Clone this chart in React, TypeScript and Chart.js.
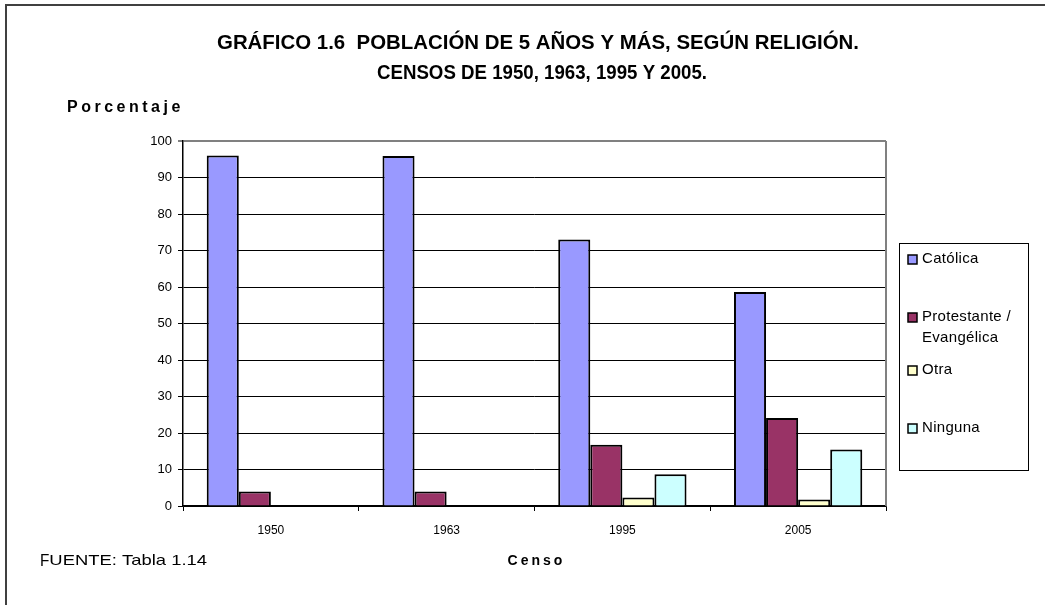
import { useEffect, useRef } from 'react';
import { Chart, registerables } from 'chart.js';

Chart.register(...registerables);

const categories = ['1950', '1963', '1995', '2005'];
const catolica = [96.0, 95.9, 73.0, 58.6];
const protestante = [4.0, 4.0, 16.8, 24.1];
const otra: (number | null)[] = [null, null, 2.3, 1.8];
const ninguna: (number | null)[] = [null, null, 8.7, 15.5];
const seriesLabels = ['Católica', 'Protestante / Evangélica', 'Otra', 'Ninguna'];
const legendLines = [['Católica'], ['Protestante /', 'Evangélica'], ['Otra'], ['Ninguna']];
const seriesColors = ['#9999FF', '#993366', '#FFFFCC', '#CCFFFF'];
const titleLines = [
  'GRÁFICO 1.6  POBLACIÓN DE 5 AÑOS Y MÁS, SEGÚN RELIGIÓN.',
  'CENSOS DE 1950, 1963, 1995 Y 2005.',
];
const yAxisTitle = 'Porcentaje';
const xAxisTitle = 'Censo';
const sourceText = 'FUENTE: Tabla 1.14';
const yMin = 0;
const yMax = 100;
const yStep = 10;

const FONT = '"Liberation Sans", Arial, Helvetica, sans-serif';

function fitText(ctx: CanvasRenderingContext2D, text: string, x: number, cy: number, w: number, align: 'center' | 'left') {
  const m = ctx.measureText(text).width;
  const s = w / m;
  ctx.save();
  ctx.translate(x, cy);
  ctx.scale(s, 1);
  ctx.textAlign = align;
  ctx.textBaseline = 'middle';
  ctx.fillText(text, 0, 0);
  ctx.restore();
}

export default function App() {
  const ref = useRef<HTMLCanvasElement>(null);

  useEffect(() => {
    const canvas = ref.current!;
    const decor = {
      id: 'decor',
      beforeDraw(chart: any) {
        const ctx = chart.ctx as CanvasRenderingContext2D;
        ctx.save();
        ctx.fillStyle = '#ffffff';
        ctx.fillRect(0, 0, chart.width, chart.height);
        ctx.restore();
      },
      afterDraw(chart: any) {
        const ctx = chart.ctx as CanvasRenderingContext2D;
        const a = chart.chartArea;
        ctx.save();
        // outer frame (left & top visible)
        ctx.strokeStyle = '#404040';
        ctx.lineWidth = 2;
        ctx.beginPath();
        ctx.moveTo(6, 605);
        ctx.lineTo(6, 5);
        ctx.lineTo(1045, 5);
        ctx.stroke();
        // plot right border
        ctx.strokeStyle = '#808080';
        ctx.lineWidth = 2;
        ctx.beginPath();
        ctx.moveTo(a.right, a.top);
        ctx.lineTo(a.right, a.bottom);
        ctx.stroke();

        // title
        ctx.fillStyle = '#000';
        ctx.font = `bold 20px ${FONT}`;
        fitText(ctx, titleLines[0], 538, 43, 642, 'center');
        fitText(ctx, titleLines[1], 542, 73, 330, 'center');

        // axis titles
        ctx.font = `bold 16px ${FONT}`;
        (ctx as any).letterSpacing = '3.5px';
        ctx.textAlign = 'left';
        ctx.textBaseline = 'middle';
        ctx.fillText(yAxisTitle, 67, 108);
        ctx.font = `bold 14px ${FONT}`;
        (ctx as any).letterSpacing = '3px';
        ctx.textAlign = 'center';
        ctx.fillText(xAxisTitle, (a.left + a.right) / 2 + 2, 561);
        (ctx as any).letterSpacing = '0px';

        // source
        ctx.font = `17px ${FONT}`;
        const fw = ctx.measureText(sourceText.charAt(0)).width * 0.9;
        fitText(ctx, sourceText.charAt(0), 40, 561, fw, 'left');
        ctx.font = `15px ${FONT}`;
        fitText(ctx, sourceText.slice(1), 40 + fw, 561, 167 - fw, 'left');

        // legend
        const lx = 899, ly = 243, lw = 129, lh = 227;
        ctx.strokeStyle = '#000';
        ctx.lineWidth = 1;
        ctx.strokeRect(lx + 0.5, ly + 0.5, lw, lh);
        const ys = [259, 317, 370, 428];
        ctx.font = `15px ${FONT}`;
        (ctx as any).letterSpacing = '0.3px';
        ctx.textAlign = 'left';
        ctx.textBaseline = 'middle';
        legendLines.forEach((lines, i) => {
          const y = ys[i];
          ctx.fillStyle = seriesColors[i];
          ctx.fillRect(908, y - 4, 9, 9);
          ctx.strokeStyle = '#000';
          ctx.lineWidth = 1.5;
          ctx.strokeRect(908, y - 4, 9, 9);
          ctx.fillStyle = '#000';
          lines.forEach((t, j) => ctx.fillText(t, 922, y + j * 21));
        });
        ctx.restore();
      },
    };

    const chart = new Chart(canvas, {
      type: 'bar',
      data: {
        labels: categories,
        datasets: [catolica, protestante, otra, ninguna].map((d, i) => ({
          label: seriesLabels[i],
          data: d,
          backgroundColor: seriesColors[i],
          borderColor: '#000',
          borderWidth: 2,
          categoryPercentage: 0.73,
          barPercentage: 1,
        })),
      },
      options: {
        responsive: false,
        animation: false,
        layout: { padding: { top: 141, right: 159, left: 0, bottom: 0 } },
        plugins: {
          legend: { display: false },
          tooltip: { enabled: false },
          title: { display: false },
        },
        scales: {
          x: {
            grid: {
              offset: true,
              drawOnChartArea: false,
              drawTicks: true,
              tickLength: 5,
              color: '#000',
            },
            border: { color: '#000', width: 1.5 },
            ticks: { color: '#000', font: { family: FONT, size: 12 }, padding: 12 },
            afterFit: (s: any) => { s.height = 99; },
          },
          y: {
            min: yMin,
            max: yMax,
            ticks: {
              stepSize: yStep,
              color: '#000',
              font: { family: FONT, size: 13 },
              padding: 6,
            },
            grid: {
              color: (c: any) => (c.tick && c.tick.value === yMax ? '#808080' : '#000'),
              lineWidth: (c: any) => (c.tick && c.tick.value === yMax ? 2 : 1),
              tickLength: 5,
            },
            border: { color: '#000', width: 1.5 },
            afterFit: (s: any) => { s.width = 183; },
          },
        },
      },
      plugins: [decor],
    });
    return () => chart.destroy();
  }, []);

  return (
    <div style={{ position: 'fixed', left: 0, top: 0, width: 1045, height: 605, background: '#fff' }}>
      <canvas ref={ref} width={1045} height={605} style={{ display: 'block', width: 1045, height: 605 }} />
    </div>
  );
}
